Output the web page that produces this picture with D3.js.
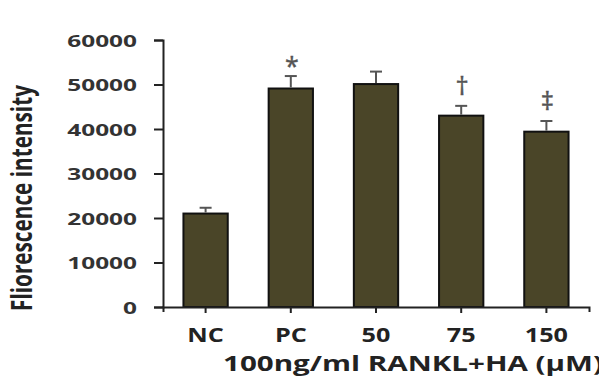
<!DOCTYPE html>
<html>
<head>
<meta charset="utf-8">
<script src="https://cdn.jsdelivr.net/npm/d3@7"></script>
<style>
  body { margin: 0; background: #fff; }
  svg { display: block; }
  text { font-family: 'Open Sans', sans-serif; }
</style>
</head>
<body>
<div id="chart"></div>
<script>
const width = 599
const height = 391
const margin = { top: 40, right: 10, bottom: 84, left: 163 }

const categories = ['NC', 'PC', '50', '75', '150']
const means = [21000, 49100, 50100, 43000, 39400]
const errors = [1300, 2800, 2800, 2200, 2400]
const marks = ['', '*', '', '†', '‡']
const yTicks = [0, 10000, 20000, 30000, 40000, 50000, 60000]

const svg = d3.select('#chart')
  .append('svg')
  .attr('width', width)
  .attr('height', height)

const x = d3.scaleBand()
  .domain(categories)
  .range([margin.left, 589])
  .paddingInner(0.48)
  .paddingOuter(0.24)

const y = d3.scaleLinear()
  .domain([0, 60000])
  .range([height - margin.bottom, margin.top])

// bars
svg.selectAll('rect.bar')
  .data(means)
  .enter()
  .append('rect')
  .attr('class', 'bar')
  .attr('x', (d, i) => x(categories[i]))
  .attr('y', (d) => y(d))
  .attr('width', x.bandwidth())
  .attr('height', (d) => y(0) - y(d))
  .attr('fill', '#4a4528')
  .attr('stroke', '#111')
  .attr('stroke-width', 2)

// error bars (upper only)
const errG = svg.selectAll('g.err')
  .data(means)
  .enter()
  .append('g')
  .attr('class', 'err')
  .attr('stroke', '#555')
  .attr('stroke-width', 2)

errG.append('line')
  .attr('x1', (d, i) => x(categories[i]) + x.bandwidth() / 2)
  .attr('x2', (d, i) => x(categories[i]) + x.bandwidth() / 2)
  .attr('y1', (d) => y(d) - 1)
  .attr('y2', (d, i) => y(d + errors[i]))

errG.append('line')
  .attr('x1', (d, i) => x(categories[i]) + x.bandwidth() / 2 - 6)
  .attr('x2', (d, i) => x(categories[i]) + x.bandwidth() / 2 + 6)
  .attr('y1', (d, i) => y(d + errors[i]))
  .attr('y2', (d, i) => y(d + errors[i]))

// significance marks
svg.selectAll('text.mark')
  .data(marks)
  .enter()
  .append('text')
  .attr('class', 'mark')
  .attr('x', (d, i) => x(categories[i]) + x.bandwidth() / 2 + 1)
  .attr('y', (d, i) => y(means[i] + errors[i]) - (d === '*' ? 1 : 11))
  .attr('text-anchor', 'middle')
  .attr('font-family', 'DejaVu Sans, sans-serif')
  .attr('font-size', (d) => d === '*' ? 25 : 26)
  .attr('fill', '#555')
  .attr('stroke', '#555')
  .attr('stroke-width', 0.4)
  .text((d) => d)

// y axis
const yAxis = svg.append('g')
  .attr('transform', `translate(${margin.left},0)`)
  .call(d3.axisLeft(y).tickValues(yTicks).tickFormat(d3.format('d')).tickSize(9).tickSizeOuter(9))

yAxis.select('.domain').attr('stroke', '#222').attr('stroke-width', 2)
yAxis.selectAll('.tick line').attr('stroke', '#222').attr('stroke-width', 2)
yAxis.selectAll('.tick text')
  .attr('x', 0)
  .attr('dy', 0)
  .attr('transform', 'translate(-26,6) scale(1.48,1)')
  .attr('font-size', 16.5)
  .attr('font-weight', 700)
  .attr('font-family', 'Open Sans, sans-serif')
  .attr('fill', '#333')

// x axis
const xAxis = svg.append('g')
  .attr('transform', `translate(0,${y(0)})`)
  .call(d3.axisBottom(x).tickSize(6).tickSizeOuter(5))

xAxis.select('.domain').attr('stroke', '#222').attr('stroke-width', 2)
xAxis.selectAll('.tick line').attr('stroke', '#222').attr('stroke-width', 2)
xAxis.selectAll('.tick text')
  .attr('y', 0)
  .attr('dy', 0)
  .attr('transform', 'translate(0,35) scale(1.26,1)')
  .attr('font-size', 20)
  .attr('font-weight', 700)
  .attr('font-family', 'Open Sans, sans-serif')
  .attr('fill', '#222')

// axis titles
svg.append('text')
  .attr('x', 223)
  .attr('y', 371)
  .attr('font-size', 21)
  .attr('font-weight', 700)
  .attr('fill', '#222')
  .attr('textLength', 380)
  .attr('lengthAdjust', 'spacingAndGlyphs')
  .text('100ng/ml RANKL+HA (µM)')

svg.append('text')
  .attr('transform', 'translate(32,311) rotate(-90)')
  .attr('font-size', 28)
  .attr('font-weight', 700)
  .attr('fill', '#222')
  .attr('textLength', 226)
  .attr('lengthAdjust', 'spacingAndGlyphs')
  .text('Fliorescence intensity')
</script>
</body>
</html>
